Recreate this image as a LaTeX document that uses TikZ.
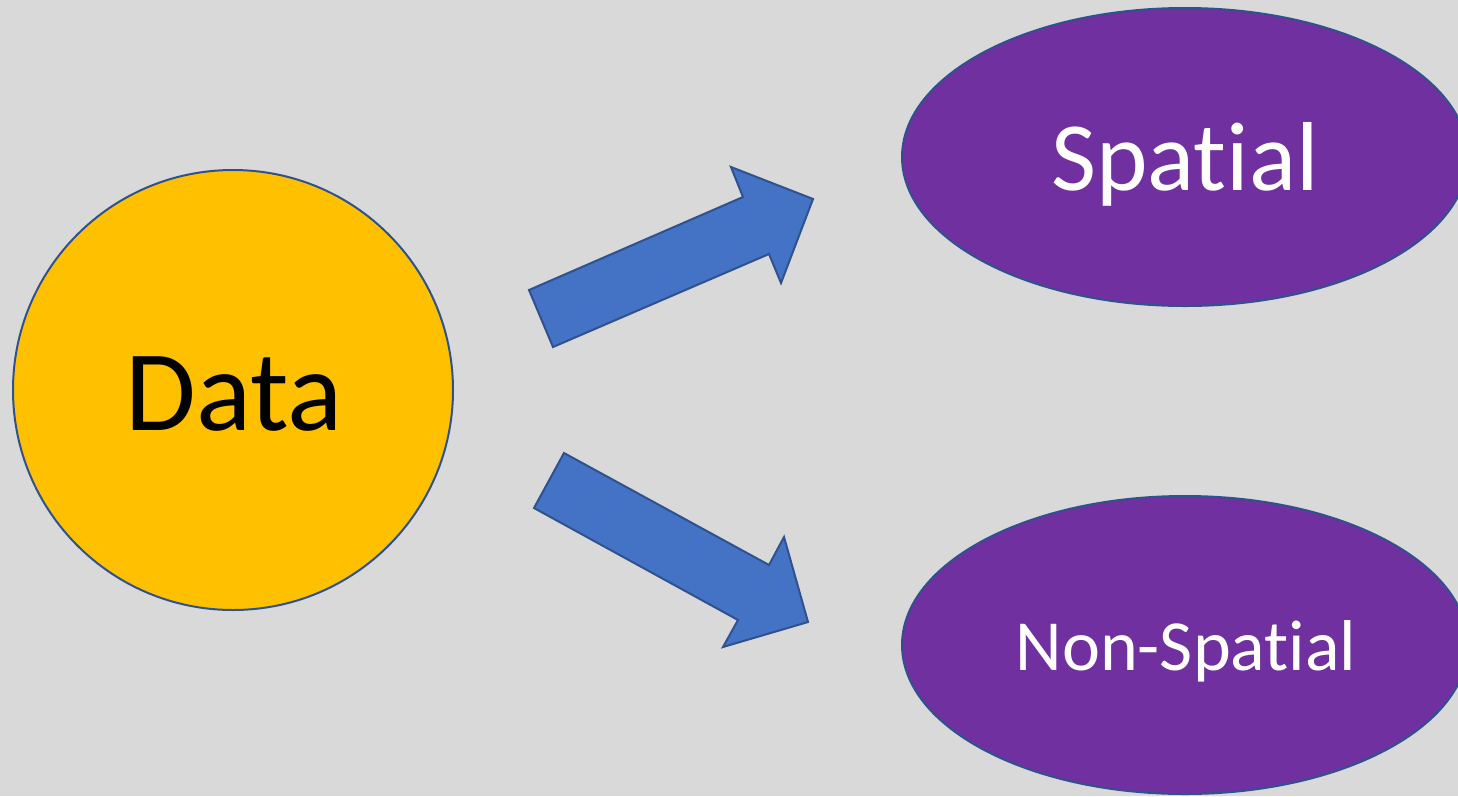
\documentclass[tikz,border=0pt]{standalone}
\usepackage{fontspec}
\setmainfont{Carlito}[Ligatures=NoCommon]
\usetikzlibrary{shapes.geometric}
\definecolor{bg}{HTML}{D9D9D9}
\definecolor{gold}{HTML}{FFC000}
\definecolor{edge}{HTML}{2F528F}
\definecolor{purp}{HTML}{7030A0}
\definecolor{arrowblue}{HTML}{4472C4}
\tikzset{
  shapeline/.style={draw=edge, line width=2pt},
  datacircle/.style={shapeline, circle, fill=gold, minimum size=440pt, inner sep=0pt},
  purpleellipse/.style={shapeline, ellipse, fill=purp, minimum width=566pt, minimum height=298pt, inner sep=0pt},
  fatarrow/.style={shapeline, fill=arrowblue, line join=miter},
  lbl/.style={anchor=base, inner sep=0pt}
}
\begin{document}
\begin{tikzpicture}[x=1pt,y=-1pt]
\useasboundingbox (0,0) rectangle (1458,796);
\fill[bg] (0,0) rectangle (1458,796);
\node[datacircle] (data) at (233,390) {};
\node[purpleellipse] (spatial) at (1185,157) {};
\node[purpleellipse] (nonspatial) at (1185,645) {};
\node[lbl, text=black] (datatxt) at (234,430) {\fontsize{115}{115}\selectfont Data};
\node[lbl, text=white] (spatialtxt) at (1185,190) {\fontsize{98}{98}\selectfont Spatial};
\node[lbl, text=white] (nonspatialtxt) at (1186,670) {\fontsize{72}{72}\selectfont Non-Spatial};
\draw[fatarrow] (529,290) -- (743,197) -- (731,167) -- (813,199) -- (781,283) -- (769,254) -- (553,347) -- cycle;
\draw[fatarrow] (564,453) -- (769,565) -- (784,537) -- (808,622) -- (723,647) -- (738,620) -- (534,508) -- cycle;
\end{tikzpicture}
\end{document}
